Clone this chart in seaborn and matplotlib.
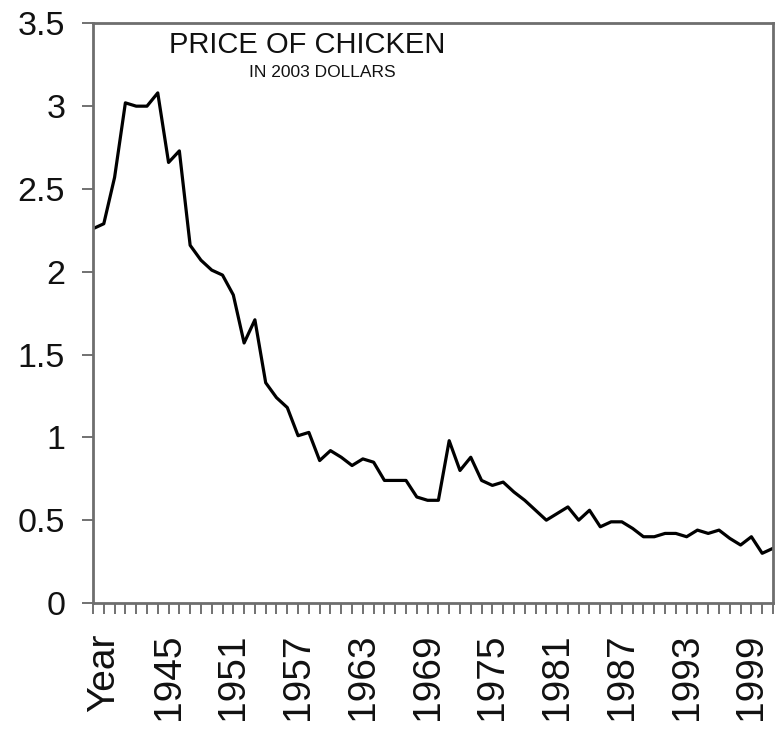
import matplotlib
matplotlib.use("Agg")
import matplotlib.pyplot as plt
import seaborn as sns
import pandas as pd

# price of chicken, 2003 dollars, one value per category on the x axis
years = list(range(1938, 2002))
prices = [
    2.26, 2.29, 2.57, 3.02, 3.00, 3.00, 3.08, 2.66, 2.73, 2.16,
    2.07, 2.01, 1.98, 1.86, 1.57, 1.71, 1.33, 1.24, 1.18, 1.01,
    1.03, 0.86, 0.92, 0.88, 0.83, 0.87, 0.85, 0.74, 0.74, 0.74,
    0.64, 0.62, 0.62, 0.98, 0.80, 0.88, 0.74, 0.71, 0.73, 0.67,
    0.62, 0.56, 0.50, 0.54, 0.58, 0.50, 0.56, 0.46, 0.49, 0.49,
    0.45, 0.40, 0.40, 0.42, 0.42, 0.40, 0.44, 0.42, 0.44, 0.39,
    0.35, 0.40, 0.30, 0.33,
]
label_years = [1939, 1945, 1951, 1957, 1963, 1969, 1975, 1981, 1987, 1993, 1999]
label_text = ["Year", "1945", "1951", "1957", "1963", "1969",
              "1975", "1981", "1987", "1993", "1999"]
y_ticks = [0, 0.5, 1, 1.5, 2, 2.5, 3, 3.5]
y_labels = ["0", "0.5", "1", "1.5", "2", "2.5", "3", "3.5"]

df = pd.DataFrame({"year": years, "price": prices})

sns.set_style("white")
plt.rcParams["font.family"] = ["Liberation Sans", "DejaVu Sans"]
plt.rcParams["text.color"] = "#111111"
plt.rcParams["xtick.labelcolor"] = "#111111"
plt.rcParams["ytick.labelcolor"] = "#111111"

fig = plt.figure(figsize=(7.75, 7.3), dpi=100)
ax = fig.add_axes([0.12, 0.174, 0.8774, 0.794])

sns.lineplot(data=df, x="year", y="price", color="black", linewidth=2.3, ax=ax)

ax.set_xlim(years[0], years[-1])
ax.set_ylim(0, 3.5)

labels = [""] * len(years)
for yr, txt in zip(label_years, label_text):
    labels[years.index(yr)] = txt
ax.set_xticks(years)
ax.set_xticklabels(labels, rotation=90, fontsize=28)
ax.set_yticks(y_ticks)
ax.set_yticklabels(y_labels, fontsize=24.5)

ax.tick_params(axis="x", length=8, width=1.3, color="#666666", pad=14, bottom=True)
ax.tick_params(axis="y", length=8, width=1.3, color="#666666", pad=12, left=True)
for s in ax.spines.values():
    s.set_color("#6e6e6e")
    s.set_linewidth(2)

ax.set_xlabel("")
ax.set_ylabel("")

ax.text(0.315, 0.963, "PRICE OF CHICKEN", transform=ax.transAxes,
        ha="center", va="center", fontsize=21)
ax.text(0.337, 0.915, "IN 2003 DOLLARS", transform=ax.transAxes,
        ha="center", va="center", fontsize=12.5)

fig.savefig("out.png", dpi=100)
plt.close(fig)
